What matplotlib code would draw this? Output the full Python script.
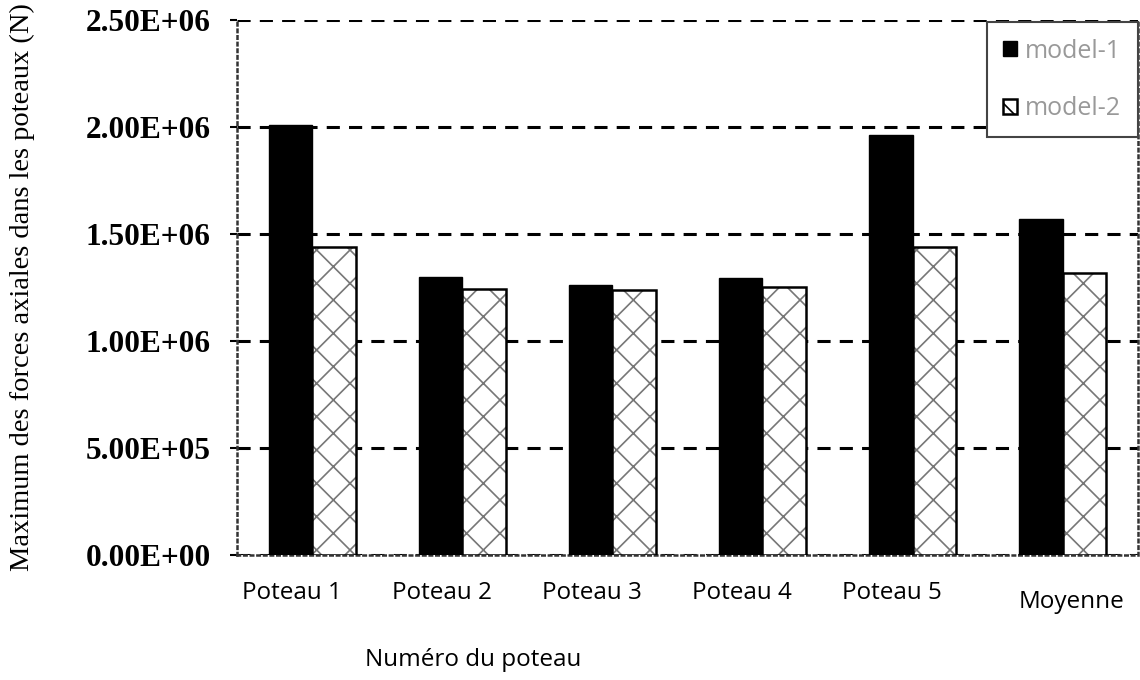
import matplotlib.pyplot as plt
import numpy as np

plt.rcParams['hatch.linewidth'] = 1.2

categories = ["Poteau 1", "Poteau 2", "Poteau 3", "Poteau 4", "Poteau 5", "Moyenne"]
model_1 = [2.01e6, 1.30e6, 1.262e6, 1.295e6, 1.963e6, 1.57e6]
model_2 = [1.44e6, 1.243e6, 1.238e6, 1.252e6, 1.44e6, 1.318e6]
y_ticks = [0, 5e5, 1e6, 1.5e6, 2e6, 2.5e6]
y_tick_labels = ["0.00E+00", "5.00E+05", "1.00E+06", "1.50E+06", "2.00E+06", "2.50E+06"]

fig = plt.figure(figsize=(11.4, 6.8), dpi=100)
ax = fig.add_axes([0.208, 0.184, 0.790, 0.787])

x = np.arange(len(categories))
w = 0.29
ax.bar(x - w / 2, model_1, w, color="black", edgecolor="black", label="model-1", zorder=3)
# hatch drawn in grey, outline drawn on top in black
ax.bar(x + w / 2, model_2, w, color="white", edgecolor="#777777", hatch="x",
       linewidth=0, zorder=3)
ax.bar(x + w / 2, model_2, w, fill=False, edgecolor="black", linewidth=1.8, zorder=4)
h2 = plt.Rectangle((0, 0), 1, 1, facecolor="white", edgecolor="black", linewidth=1.8,
                   hatch="x")

ax.set_xlim(-0.5, len(categories) - 0.5)
ax.set_ylim(0, 2.5e6)
ax.set_yticks(y_ticks)
ax.set_yticklabels(y_tick_labels, fontfamily="Liberation Serif", fontweight="bold", fontsize=22.5)
ax.set_xticks(x)
ax.set_xticklabels([])
ax.tick_params(axis="x", length=0)
ax.tick_params(axis="y", length=5, width=1.5, direction="out", pad=14)

# category labels, slightly off-centre as in the original export
trans = ax.get_xaxis_transform()
for i, name in enumerate(categories):
    if name == "Moyenne":
        ax.text(i + 0.06, -0.088, name, transform=trans, ha="center", va="center",
                fontfamily="Open Sans", fontsize=17.5)
    else:
        ax.text(i - 0.135, -0.072, name, transform=trans, ha="center", va="center",
                fontfamily="Open Sans", fontsize=17.5)

ax.yaxis.grid(True, linestyle=(0, (4.3, 3)), color="black", linewidth=2.2, zorder=0)
for s in ["left", "right", "bottom"]:
    ax.spines[s].set_linestyle(":")
    ax.spines[s].set_linewidth(1.8)
    ax.spines[s].set_color("#333333")
ax.spines["top"].set_visible(False)

ax.set_ylabel("Maximum des forces axiales dans les poteaux (N)",
              fontfamily="Liberation Serif", fontsize=20.5, labelpad=36)
fig.text(473 / 1140, 1 - 660 / 680, "Numéro du poteau", ha="center", va="center",
         fontfamily="Open Sans", fontsize=17.5)

handles = [ax.patches[0], h2]
leg = ax.legend(handles, ["model-1", "model-2"], loc="upper right",
                bbox_to_anchor=(1.0, 0.995), borderaxespad=0, fancybox=False,
                prop={"family": "Open Sans", "size": 18}, labelcolor="#999999",
                handlelength=0.55, handleheight=0.55, handletextpad=0.35,
                labelspacing=1.3, borderpad=0.65, framealpha=1)
leg.get_frame().set_edgecolor("#444444")
leg.get_frame().set_linewidth(1.5)

fig.savefig("out.png", dpi=100)
